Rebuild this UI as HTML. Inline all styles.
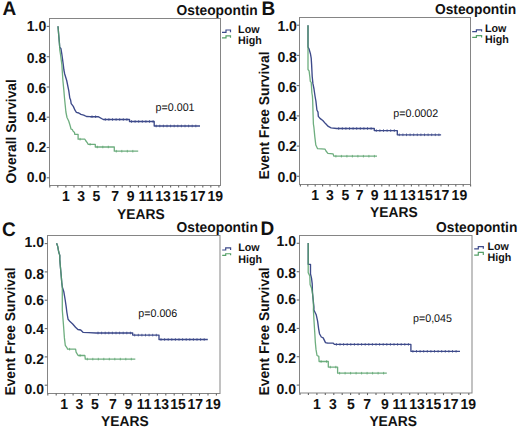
<!DOCTYPE html>
<html><head><meta charset="utf-8"><style>
html,body{margin:0;padding:0;background:#fff;}
svg{display:block;}
text{font-family:"Liberation Sans", sans-serif;fill:#111;text-rendering:geometricPrecision;}
.yl{font-size:14px;font-weight:bold;}
.ax{font-size:13.8px;font-weight:bold;}
.let{font-size:19px;font-weight:bold;}
.lg{font-size:10.7px;font-weight:bold;}
.pv{font-size:10.7px;}
</style></head><body>
<svg width="520" height="430" viewBox="0 0 520 430">
<rect width="520" height="430" fill="#fff"/>
<g id="pA"><rect x="49.5" y="18.5" width="171" height="167" fill="none" stroke="#858585" stroke-width="1"/>
<line x1="46.7" y1="177.8" x2="49.5" y2="177.8" stroke="#6a6a6a" stroke-width="1.1"/>
<text transform="translate(46.20,182.10) scale(1,1.03)" text-anchor="end" class="yl">0.0</text>
<line x1="46.7" y1="147.5" x2="49.5" y2="147.5" stroke="#6a6a6a" stroke-width="1.1"/>
<text transform="translate(46.20,151.90) scale(1,1.03)" text-anchor="end" class="yl">0.2</text>
<line x1="46.7" y1="117.2" x2="49.5" y2="117.2" stroke="#6a6a6a" stroke-width="1.1"/>
<text transform="translate(46.20,121.90) scale(1,1.03)" text-anchor="end" class="yl">0.4</text>
<line x1="46.7" y1="87.0" x2="49.5" y2="87.0" stroke="#6a6a6a" stroke-width="1.1"/>
<text transform="translate(46.20,92.85) scale(1,1.03)" text-anchor="end" class="yl">0.6</text>
<line x1="46.7" y1="56.7" x2="49.5" y2="56.7" stroke="#6a6a6a" stroke-width="1.1"/>
<text transform="translate(46.20,62.85) scale(1,1.03)" text-anchor="end" class="yl">0.8</text>
<line x1="46.7" y1="26.4" x2="49.5" y2="26.4" stroke="#6a6a6a" stroke-width="1.1"/>
<text transform="translate(46.20,31.25) scale(1,1.03)" text-anchor="end" class="yl">1.0</text>
<line x1="49.8" y1="185.5" x2="49.8" y2="187.6" stroke="#666" stroke-width="1.1"/>
<line x1="57.8" y1="185.5" x2="57.8" y2="187.6" stroke="#666" stroke-width="1.1"/>
<line x1="65.9" y1="185.5" x2="65.9" y2="187.6" stroke="#666" stroke-width="1.1"/>
<line x1="74.0" y1="185.5" x2="74.0" y2="187.6" stroke="#666" stroke-width="1.1"/>
<line x1="82.0" y1="185.5" x2="82.0" y2="187.6" stroke="#666" stroke-width="1.1"/>
<line x1="90.0" y1="185.5" x2="90.0" y2="187.6" stroke="#666" stroke-width="1.1"/>
<line x1="98.1" y1="185.5" x2="98.1" y2="187.6" stroke="#666" stroke-width="1.1"/>
<line x1="106.2" y1="185.5" x2="106.2" y2="187.6" stroke="#666" stroke-width="1.1"/>
<line x1="114.2" y1="185.5" x2="114.2" y2="187.6" stroke="#666" stroke-width="1.1"/>
<line x1="122.2" y1="185.5" x2="122.2" y2="187.6" stroke="#666" stroke-width="1.1"/>
<line x1="130.3" y1="185.5" x2="130.3" y2="187.6" stroke="#666" stroke-width="1.1"/>
<line x1="138.4" y1="185.5" x2="138.4" y2="187.6" stroke="#666" stroke-width="1.1"/>
<line x1="146.4" y1="185.5" x2="146.4" y2="187.6" stroke="#666" stroke-width="1.1"/>
<line x1="154.4" y1="185.5" x2="154.4" y2="187.6" stroke="#666" stroke-width="1.1"/>
<line x1="162.5" y1="185.5" x2="162.5" y2="187.6" stroke="#666" stroke-width="1.1"/>
<line x1="170.6" y1="185.5" x2="170.6" y2="187.6" stroke="#666" stroke-width="1.1"/>
<line x1="178.6" y1="185.5" x2="178.6" y2="187.6" stroke="#666" stroke-width="1.1"/>
<line x1="186.7" y1="185.5" x2="186.7" y2="187.6" stroke="#666" stroke-width="1.1"/>
<line x1="194.7" y1="185.5" x2="194.7" y2="187.6" stroke="#666" stroke-width="1.1"/>
<line x1="202.8" y1="185.5" x2="202.8" y2="187.6" stroke="#666" stroke-width="1.1"/>
<line x1="210.8" y1="185.5" x2="210.8" y2="187.6" stroke="#666" stroke-width="1.1"/>
<line x1="218.9" y1="185.5" x2="218.9" y2="187.6" stroke="#666" stroke-width="1.1"/>
<text transform="translate(65.90,200.90) scale(1,1.03)" text-anchor="middle" class="yl">1</text>
<text transform="translate(81.20,200.90) scale(1,1.03)" text-anchor="middle" class="yl">3</text>
<text transform="translate(96.50,200.90) scale(1,1.03)" text-anchor="middle" class="yl">5</text>
<text transform="translate(115.10,200.90) scale(1,1.03)" text-anchor="middle" class="yl">7</text>
<text transform="translate(130.70,200.90) scale(1,1.03)" text-anchor="middle" class="yl">9</text>
<text transform="translate(145.80,200.90) scale(1,1.03)" text-anchor="middle" class="yl">11</text>
<text transform="translate(163.00,200.90) scale(1,1.03)" text-anchor="middle" class="yl">13</text>
<text transform="translate(180.00,200.90) scale(1,1.03)" text-anchor="middle" class="yl">15</text>
<text transform="translate(197.70,200.90) scale(1,1.03)" text-anchor="middle" class="yl">17</text>
<text transform="translate(215.20,200.90) scale(1,1.03)" text-anchor="middle" class="yl">19</text>
<text transform="translate(117.10,219.00) scale(1,1.03)" class="ax">YEARS</text>
<text transform="translate(16.0,131.3) rotate(-90) scale(1,1.03)" text-anchor="middle" class="ax">Overall Survival</text>
<text transform="translate(2.55,14.90) scale(1,1.03)" class="let">A</text>
<text transform="translate(176.50,14.50) scale(1,1.03)" class="ax">Osteopontin</text>
<path d="M222,32.3 H226 V30.0 H230.5 V32.3" fill="none" stroke="#3d4a8a" stroke-width="1.2"/>
<path d="M222,37.8 H226 V35.9 H230.5 V37.8" fill="none" stroke="#55a068" stroke-width="1.2"/>
<text transform="translate(238.10,32.80) scale(1,1.03)" class="lg">Low</text>
<text transform="translate(238.10,44.10) scale(1,1.03)" class="lg">High</text>
<text transform="translate(155.60,110.55) scale(1,1.03)" class="pv">p=0.001</text>
<polyline points="58.0,26.2 58.5,32.5 59.4,42.9 59.7,47.3 60.9,48.4 61.9,54.5 63.3,64.9 63.9,70.0 64.7,74.0 66.7,80.5 68.8,90.9 69.8,98.0 70.6,100.0 71.2,103.6 73.3,106.4 75.0,110.2 76.4,112.3 78.8,113.0 80.9,114.4 83.7,115.1 86.5,116.5 90.0,116.7 98.1,116.7 103.3,119.5 129.5,119.5 129.5,121.5 154.2,121.5 154.2,126.0 200.0,126.0" fill="none" stroke="#3d4a8a" stroke-width="1.35" stroke-linejoin="round"/>
<path d="M92.0,115.4v2.6 M95.6,115.4v2.6 M105.3,118.2v2.6 M108.9,118.2v2.6 M112.5,118.2v2.6 M116.1,118.2v2.6 M119.7,118.2v2.6 M123.3,118.2v2.6 M126.9,118.2v2.6 M131.5,120.2v2.6 M135.1,120.2v2.6 M138.7,120.2v2.6 M142.3,120.2v2.6 M145.9,120.2v2.6 M149.5,120.2v2.6 M153.1,120.2v2.6 M156.2,124.7v2.6 M159.8,124.7v2.6 M163.4,124.7v2.6 M167.0,124.7v2.6 M170.6,124.7v2.6 M174.2,124.7v2.6 M177.8,124.7v2.6 M181.4,124.7v2.6 M185.0,124.7v2.6 M188.6,124.7v2.6 M192.2,124.7v2.6 M195.8,124.7v2.6" stroke="#3d4a8a" stroke-width="0.8" stroke-opacity="1.0" fill="none"/>
<polyline points="58.0,26.2 58.5,32.5 59.4,42.9 59.7,47.3 59.7,49.5 60.5,54.5 61.9,64.9 62.2,70.0 62.9,80.5 63.9,90.9 64.5,98.0 65.2,105.0 65.9,112.0 67.0,117.5 68.7,121.0 69.8,124.5 70.3,126.2 71.0,129.0 72.4,129.7 73.1,131.1 74.5,132.5 74.8,134.3 78.1,134.3 78.1,139.2 84.9,139.2 85.6,140.5 87.4,142.9 88.1,144.3 95.3,144.3 95.3,147.0 114.3,147.0 114.3,151.2 138.2,151.2" fill="none" stroke="#55a068" stroke-width="1.3" stroke-linejoin="round" stroke-opacity="0.85"/>
<path d="M80.1,137.9v2.6 M90.1,143.0v2.6 M97.3,145.7v2.6 M102.8,145.7v2.6 M108.3,145.7v2.6 M116.3,149.9v2.6 M121.8,149.9v2.6 M127.3,149.9v2.6 M132.8,149.9v2.6" stroke="#55a068" stroke-width="0.8" stroke-opacity="0.85" fill="none"/></g>
<g id="pB"><rect x="299.5" y="17.5" width="171" height="167" fill="none" stroke="#858585" stroke-width="1"/>
<line x1="296.7" y1="176.3" x2="299.5" y2="176.3" stroke="#6a6a6a" stroke-width="1.1"/>
<text transform="translate(296.90,181.65) scale(1,1.03)" text-anchor="end" class="yl">0.0</text>
<line x1="296.7" y1="146.1" x2="299.5" y2="146.1" stroke="#6a6a6a" stroke-width="1.1"/>
<text transform="translate(296.90,150.95) scale(1,1.03)" text-anchor="end" class="yl">0.2</text>
<line x1="296.7" y1="115.9" x2="299.5" y2="115.9" stroke="#6a6a6a" stroke-width="1.1"/>
<text transform="translate(296.90,120.75) scale(1,1.03)" text-anchor="end" class="yl">0.4</text>
<line x1="296.7" y1="85.6" x2="299.5" y2="85.6" stroke="#6a6a6a" stroke-width="1.1"/>
<text transform="translate(296.90,91.95) scale(1,1.03)" text-anchor="end" class="yl">0.6</text>
<line x1="296.7" y1="55.4" x2="299.5" y2="55.4" stroke="#6a6a6a" stroke-width="1.1"/>
<text transform="translate(296.90,61.95) scale(1,1.03)" text-anchor="end" class="yl">0.8</text>
<line x1="296.7" y1="25.2" x2="299.5" y2="25.2" stroke="#6a6a6a" stroke-width="1.1"/>
<text transform="translate(296.90,30.85) scale(1,1.03)" text-anchor="end" class="yl">1.0</text>
<line x1="300.4" y1="184.5" x2="300.4" y2="186.6" stroke="#666" stroke-width="1.1"/>
<line x1="307.8" y1="184.5" x2="307.8" y2="186.6" stroke="#666" stroke-width="1.1"/>
<line x1="315.2" y1="184.5" x2="315.2" y2="186.6" stroke="#666" stroke-width="1.1"/>
<line x1="322.6" y1="184.5" x2="322.6" y2="186.6" stroke="#666" stroke-width="1.1"/>
<line x1="330.0" y1="184.5" x2="330.0" y2="186.6" stroke="#666" stroke-width="1.1"/>
<line x1="337.4" y1="184.5" x2="337.4" y2="186.6" stroke="#666" stroke-width="1.1"/>
<line x1="344.8" y1="184.5" x2="344.8" y2="186.6" stroke="#666" stroke-width="1.1"/>
<line x1="352.2" y1="184.5" x2="352.2" y2="186.6" stroke="#666" stroke-width="1.1"/>
<line x1="359.6" y1="184.5" x2="359.6" y2="186.6" stroke="#666" stroke-width="1.1"/>
<line x1="367.0" y1="184.5" x2="367.0" y2="186.6" stroke="#666" stroke-width="1.1"/>
<line x1="374.4" y1="184.5" x2="374.4" y2="186.6" stroke="#666" stroke-width="1.1"/>
<line x1="381.8" y1="184.5" x2="381.8" y2="186.6" stroke="#666" stroke-width="1.1"/>
<line x1="389.2" y1="184.5" x2="389.2" y2="186.6" stroke="#666" stroke-width="1.1"/>
<line x1="396.6" y1="184.5" x2="396.6" y2="186.6" stroke="#666" stroke-width="1.1"/>
<line x1="404.0" y1="184.5" x2="404.0" y2="186.6" stroke="#666" stroke-width="1.1"/>
<line x1="411.4" y1="184.5" x2="411.4" y2="186.6" stroke="#666" stroke-width="1.1"/>
<line x1="418.8" y1="184.5" x2="418.8" y2="186.6" stroke="#666" stroke-width="1.1"/>
<line x1="426.2" y1="184.5" x2="426.2" y2="186.6" stroke="#666" stroke-width="1.1"/>
<line x1="433.6" y1="184.5" x2="433.6" y2="186.6" stroke="#666" stroke-width="1.1"/>
<line x1="441.0" y1="184.5" x2="441.0" y2="186.6" stroke="#666" stroke-width="1.1"/>
<line x1="448.4" y1="184.5" x2="448.4" y2="186.6" stroke="#666" stroke-width="1.1"/>
<line x1="455.8" y1="184.5" x2="455.8" y2="186.6" stroke="#666" stroke-width="1.1"/>
<line x1="463.2" y1="184.5" x2="463.2" y2="186.6" stroke="#666" stroke-width="1.1"/>
<line x1="470.6" y1="184.5" x2="470.6" y2="186.6" stroke="#666" stroke-width="1.1"/>
<text transform="translate(315.20,200.10) scale(1,1.03)" text-anchor="middle" class="yl">1</text>
<text transform="translate(329.80,200.10) scale(1,1.03)" text-anchor="middle" class="yl">3</text>
<text transform="translate(345.30,200.10) scale(1,1.03)" text-anchor="middle" class="yl">5</text>
<text transform="translate(359.70,200.10) scale(1,1.03)" text-anchor="middle" class="yl">7</text>
<text transform="translate(374.70,200.10) scale(1,1.03)" text-anchor="middle" class="yl">9</text>
<text transform="translate(390.30,200.10) scale(1,1.03)" text-anchor="middle" class="yl">11</text>
<text transform="translate(407.90,200.10) scale(1,1.03)" text-anchor="middle" class="yl">13</text>
<text transform="translate(424.90,200.10) scale(1,1.03)" text-anchor="middle" class="yl">15</text>
<text transform="translate(441.60,200.10) scale(1,1.03)" text-anchor="middle" class="yl">17</text>
<text transform="translate(459.40,200.10) scale(1,1.03)" text-anchor="middle" class="yl">19</text>
<text transform="translate(370.05,217.10) scale(1,1.03)" class="ax">YEARS</text>
<text transform="translate(269.3,115.5) rotate(-90) scale(1,1.03)" text-anchor="middle" class="ax">Event Free Survival</text>
<text transform="translate(261.40,15.10) scale(1,1.03)" class="let">B</text>
<text transform="translate(434.90,13.65) scale(1,1.03)" class="ax">Osteopontin</text>
<path d="M472.2,31.6 H476.4 V29.9 H481.6 V31.6" fill="none" stroke="#3d4a8a" stroke-width="1.2"/>
<path d="M472.2,37.4 H476.4 V35.6 H481.6 V37.4" fill="none" stroke="#55a068" stroke-width="1.2"/>
<text transform="translate(485.00,31.75) scale(1,1.03)" class="lg">Low</text>
<text transform="translate(485.00,42.75) scale(1,1.03)" class="lg">High</text>
<text transform="translate(393.30,116.70) scale(1,1.03)" class="pv">p=0.0002</text>
<polyline points="308.0,25.2 308.0,47.0 309.1,49.1 310.5,54.0 311.2,58.1 311.6,64.4 312.2,76.5 312.9,83.4 314.0,89.0 315.0,96.0 315.9,101.0 316.9,110.0 318.0,112.1 318.3,116.3 320.0,118.4 322.8,120.5 325.5,123.6 328.3,126.4 331.1,127.8 336.7,128.5 374.3,128.5 374.3,130.6 397.3,130.6 397.3,134.8 441.1,134.8" fill="none" stroke="#3d4a8a" stroke-width="1.35" stroke-linejoin="round"/>
<path d="M338.7,127.2v2.6 M342.3,127.2v2.6 M345.9,127.2v2.6 M349.5,127.2v2.6 M353.1,127.2v2.6 M356.7,127.2v2.6 M360.3,127.2v2.6 M363.9,127.2v2.6 M367.5,127.2v2.6 M371.1,127.2v2.6 M376.3,129.3v2.6 M379.9,129.3v2.6 M383.5,129.3v2.6 M387.1,129.3v2.6 M390.7,129.3v2.6 M394.3,129.3v2.6 M399.3,133.5v2.6 M402.9,133.5v2.6 M406.5,133.5v2.6 M410.1,133.5v2.6 M413.7,133.5v2.6 M417.3,133.5v2.6 M420.9,133.5v2.6 M424.5,133.5v2.6 M428.1,133.5v2.6 M431.7,133.5v2.6 M435.3,133.5v2.6 M438.9,133.5v2.6" stroke="#3d4a8a" stroke-width="0.8" stroke-opacity="1.0" fill="none"/>
<polyline points="308.0,25.2 308.0,69.5 309.1,70.9 309.8,76.5 310.3,81.4 311.2,82.4 311.5,86.9 311.9,93.0 312.4,96.0 312.7,101.0 313.1,115.0 313.4,124.0 313.9,127.3 314.8,136.6 315.8,145.0 317.6,148.7 325.1,149.2 326.0,151.0 327.9,153.3 333.0,153.8 333.9,156.2 377.0,156.2" fill="none" stroke="#55a068" stroke-width="1.3" stroke-linejoin="round" stroke-opacity="0.85"/>
<path d="M335.9,154.9v2.6 M341.4,154.9v2.6 M346.9,154.9v2.6 M352.4,154.9v2.6 M357.9,154.9v2.6 M363.4,154.9v2.6 M368.9,154.9v2.6 M374.4,154.9v2.6" stroke="#55a068" stroke-width="0.8" stroke-opacity="0.85" fill="none"/></g>
<g id="pC"><rect x="47.5" y="235.5" width="172.5" height="158" fill="none" stroke="#858585" stroke-width="1"/>
<line x1="44.7" y1="385.2" x2="47.5" y2="385.2" stroke="#6a6a6a" stroke-width="1.1"/>
<text transform="translate(44.00,394.25) scale(1,1.03)" text-anchor="end" class="yl">0.0</text>
<line x1="44.7" y1="356.9" x2="47.5" y2="356.9" stroke="#6a6a6a" stroke-width="1.1"/>
<text transform="translate(44.00,363.95) scale(1,1.03)" text-anchor="end" class="yl">0.2</text>
<line x1="44.7" y1="328.6" x2="47.5" y2="328.6" stroke="#6a6a6a" stroke-width="1.1"/>
<text transform="translate(44.00,333.70) scale(1,1.03)" text-anchor="end" class="yl">0.4</text>
<line x1="44.7" y1="300.2" x2="47.5" y2="300.2" stroke="#6a6a6a" stroke-width="1.1"/>
<text transform="translate(44.00,304.95) scale(1,1.03)" text-anchor="end" class="yl">0.6</text>
<line x1="44.7" y1="271.9" x2="47.5" y2="271.9" stroke="#6a6a6a" stroke-width="1.1"/>
<text transform="translate(44.00,278.70) scale(1,1.03)" text-anchor="end" class="yl">0.8</text>
<line x1="44.7" y1="243.6" x2="47.5" y2="243.6" stroke="#6a6a6a" stroke-width="1.1"/>
<text transform="translate(44.00,247.35) scale(1,1.03)" text-anchor="end" class="yl">1.0</text>
<line x1="47.8" y1="393.5" x2="47.8" y2="395.6" stroke="#666" stroke-width="1.1"/>
<line x1="56.2" y1="393.5" x2="56.2" y2="395.6" stroke="#666" stroke-width="1.1"/>
<line x1="64.7" y1="393.5" x2="64.7" y2="395.6" stroke="#666" stroke-width="1.1"/>
<line x1="73.1" y1="393.5" x2="73.1" y2="395.6" stroke="#666" stroke-width="1.1"/>
<line x1="81.5" y1="393.5" x2="81.5" y2="395.6" stroke="#666" stroke-width="1.1"/>
<line x1="89.9" y1="393.5" x2="89.9" y2="395.6" stroke="#666" stroke-width="1.1"/>
<line x1="98.4" y1="393.5" x2="98.4" y2="395.6" stroke="#666" stroke-width="1.1"/>
<line x1="106.8" y1="393.5" x2="106.8" y2="395.6" stroke="#666" stroke-width="1.1"/>
<line x1="115.2" y1="393.5" x2="115.2" y2="395.6" stroke="#666" stroke-width="1.1"/>
<line x1="123.7" y1="393.5" x2="123.7" y2="395.6" stroke="#666" stroke-width="1.1"/>
<line x1="132.1" y1="393.5" x2="132.1" y2="395.6" stroke="#666" stroke-width="1.1"/>
<line x1="140.5" y1="393.5" x2="140.5" y2="395.6" stroke="#666" stroke-width="1.1"/>
<line x1="149.0" y1="393.5" x2="149.0" y2="395.6" stroke="#666" stroke-width="1.1"/>
<line x1="157.4" y1="393.5" x2="157.4" y2="395.6" stroke="#666" stroke-width="1.1"/>
<line x1="165.8" y1="393.5" x2="165.8" y2="395.6" stroke="#666" stroke-width="1.1"/>
<line x1="174.2" y1="393.5" x2="174.2" y2="395.6" stroke="#666" stroke-width="1.1"/>
<line x1="182.7" y1="393.5" x2="182.7" y2="395.6" stroke="#666" stroke-width="1.1"/>
<line x1="191.1" y1="393.5" x2="191.1" y2="395.6" stroke="#666" stroke-width="1.1"/>
<line x1="199.5" y1="393.5" x2="199.5" y2="395.6" stroke="#666" stroke-width="1.1"/>
<line x1="208.0" y1="393.5" x2="208.0" y2="395.6" stroke="#666" stroke-width="1.1"/>
<line x1="216.4" y1="393.5" x2="216.4" y2="395.6" stroke="#666" stroke-width="1.1"/>
<text transform="translate(64.20,409.00) scale(1,1.03)" text-anchor="middle" class="yl">1</text>
<text transform="translate(79.40,409.00) scale(1,1.03)" text-anchor="middle" class="yl">3</text>
<text transform="translate(94.80,409.00) scale(1,1.03)" text-anchor="middle" class="yl">5</text>
<text transform="translate(113.00,409.00) scale(1,1.03)" text-anchor="middle" class="yl">7</text>
<text transform="translate(128.40,409.00) scale(1,1.03)" text-anchor="middle" class="yl">9</text>
<text transform="translate(144.20,409.00) scale(1,1.03)" text-anchor="middle" class="yl">11</text>
<text transform="translate(161.20,409.00) scale(1,1.03)" text-anchor="middle" class="yl">13</text>
<text transform="translate(178.10,409.00) scale(1,1.03)" text-anchor="middle" class="yl">15</text>
<text transform="translate(195.30,409.00) scale(1,1.03)" text-anchor="middle" class="yl">17</text>
<text transform="translate(213.00,409.00) scale(1,1.03)" text-anchor="middle" class="yl">19</text>
<text transform="translate(101.10,425.50) scale(1,1.03)" class="ax">YEARS</text>
<text transform="translate(15,331.5) rotate(-90) scale(1,1.03)" text-anchor="middle" class="ax">Event Free Survival</text>
<text transform="translate(1.90,236.40) scale(1,1.03)" class="let">C</text>
<text transform="translate(176.60,232.10) scale(1,1.03)" class="ax">Osteopontin</text>
<path d="M222.2,250 H225.7 V247.9 H230.6 V250" fill="none" stroke="#3d4a8a" stroke-width="1.2"/>
<path d="M222.2,255.3 H225.7 V253.75 H230.6 V255.3" fill="none" stroke="#55a068" stroke-width="1.2"/>
<text transform="translate(238.20,251.40) scale(1,1.03)" class="lg">Low</text>
<text transform="translate(238.20,262.50) scale(1,1.03)" class="lg">High</text>
<text transform="translate(138.30,317.40) scale(1,1.03)" class="pv">p=0.006</text>
<polyline points="56.6,243.2 57.7,246.4 58.7,252.0 59.8,255.4 59.8,259.6 60.5,268.0 61.1,274.5 61.8,282.8 62.3,287.0 63.8,291.6 65.2,300.0 66.2,306.9 66.9,312.5 67.4,315.5 68.1,319.3 70.0,321.6 72.7,324.0 75.5,327.2 77.9,329.5 80.7,330.0 83.0,332.3 88.6,332.6 96.0,333.0 132.7,333.0 132.7,335.1 159.0,335.1 159.0,339.5 207.8,339.5" fill="none" stroke="#3d4a8a" stroke-width="1.35" stroke-linejoin="round"/>
<path d="M98.0,331.7v2.6 M101.6,331.7v2.6 M105.2,331.7v2.6 M108.8,331.7v2.6 M112.4,331.7v2.6 M116.0,331.7v2.6 M119.6,331.7v2.6 M123.2,331.7v2.6 M126.8,331.7v2.6 M130.4,331.7v2.6 M134.7,333.8v2.6 M138.3,333.8v2.6 M141.9,333.8v2.6 M145.5,333.8v2.6 M149.1,333.8v2.6 M152.7,333.8v2.6 M156.3,333.8v2.6 M161.0,338.2v2.6 M164.6,338.2v2.6 M168.2,338.2v2.6 M171.8,338.2v2.6 M175.4,338.2v2.6 M179.0,338.2v2.6 M182.6,338.2v2.6 M186.2,338.2v2.6 M189.8,338.2v2.6 M193.4,338.2v2.6 M197.0,338.2v2.6 M200.6,338.2v2.6 M204.2,338.2v2.6" stroke="#3d4a8a" stroke-width="0.8" stroke-opacity="1.0" fill="none"/>
<polyline points="56.6,243.2 57.7,246.4 58.7,252.0 59.8,255.4 59.8,259.6 60.5,268.0 61.1,274.5 61.8,282.8 62.3,287.0 62.3,310.0 63.4,324.0 64.4,337.9 65.3,345.3 67.2,348.1 67.6,349.2 75.6,349.2 76.1,352.1 78.1,355.5 84.9,355.5 85.3,359.1 135.3,359.1" fill="none" stroke="#55a068" stroke-width="1.3" stroke-linejoin="round" stroke-opacity="0.85"/>
<path d="M69.6,347.9v2.6 M80.1,354.2v2.6 M87.3,357.8v2.6 M92.8,357.8v2.6 M98.3,357.8v2.6 M103.8,357.8v2.6 M109.3,357.8v2.6 M114.8,357.8v2.6 M120.3,357.8v2.6 M125.8,357.8v2.6 M131.3,357.8v2.6" stroke="#55a068" stroke-width="0.8" stroke-opacity="0.85" fill="none"/></g>
<g id="pD"><rect x="299.5" y="235.5" width="172.5" height="157.5" fill="none" stroke="#858585" stroke-width="1"/>
<line x1="296.7" y1="385.1" x2="299.5" y2="385.1" stroke="#6a6a6a" stroke-width="1.1"/>
<text transform="translate(296.00,393.70) scale(1,1.03)" text-anchor="end" class="yl">0.0</text>
<line x1="296.7" y1="356.7" x2="299.5" y2="356.7" stroke="#6a6a6a" stroke-width="1.1"/>
<text transform="translate(296.00,362.60) scale(1,1.03)" text-anchor="end" class="yl">0.2</text>
<line x1="296.7" y1="328.4" x2="299.5" y2="328.4" stroke="#6a6a6a" stroke-width="1.1"/>
<text transform="translate(296.00,332.85) scale(1,1.03)" text-anchor="end" class="yl">0.4</text>
<line x1="296.7" y1="300.0" x2="299.5" y2="300.0" stroke="#6a6a6a" stroke-width="1.1"/>
<text transform="translate(296.00,304.35) scale(1,1.03)" text-anchor="end" class="yl">0.6</text>
<line x1="296.7" y1="271.7" x2="299.5" y2="271.7" stroke="#6a6a6a" stroke-width="1.1"/>
<text transform="translate(296.00,277.50) scale(1,1.03)" text-anchor="end" class="yl">0.8</text>
<line x1="296.7" y1="243.3" x2="299.5" y2="243.3" stroke="#6a6a6a" stroke-width="1.1"/>
<text transform="translate(296.00,246.45) scale(1,1.03)" text-anchor="end" class="yl">1.0</text>
<line x1="300.0" y1="393.0" x2="300.0" y2="395.1" stroke="#666" stroke-width="1.1"/>
<line x1="308.4" y1="393.0" x2="308.4" y2="395.1" stroke="#666" stroke-width="1.1"/>
<line x1="316.9" y1="393.0" x2="316.9" y2="395.1" stroke="#666" stroke-width="1.1"/>
<line x1="325.3" y1="393.0" x2="325.3" y2="395.1" stroke="#666" stroke-width="1.1"/>
<line x1="333.8" y1="393.0" x2="333.8" y2="395.1" stroke="#666" stroke-width="1.1"/>
<line x1="342.2" y1="393.0" x2="342.2" y2="395.1" stroke="#666" stroke-width="1.1"/>
<line x1="350.6" y1="393.0" x2="350.6" y2="395.1" stroke="#666" stroke-width="1.1"/>
<line x1="359.1" y1="393.0" x2="359.1" y2="395.1" stroke="#666" stroke-width="1.1"/>
<line x1="367.5" y1="393.0" x2="367.5" y2="395.1" stroke="#666" stroke-width="1.1"/>
<line x1="376.0" y1="393.0" x2="376.0" y2="395.1" stroke="#666" stroke-width="1.1"/>
<line x1="384.4" y1="393.0" x2="384.4" y2="395.1" stroke="#666" stroke-width="1.1"/>
<line x1="392.8" y1="393.0" x2="392.8" y2="395.1" stroke="#666" stroke-width="1.1"/>
<line x1="401.3" y1="393.0" x2="401.3" y2="395.1" stroke="#666" stroke-width="1.1"/>
<line x1="409.7" y1="393.0" x2="409.7" y2="395.1" stroke="#666" stroke-width="1.1"/>
<line x1="418.2" y1="393.0" x2="418.2" y2="395.1" stroke="#666" stroke-width="1.1"/>
<line x1="426.6" y1="393.0" x2="426.6" y2="395.1" stroke="#666" stroke-width="1.1"/>
<line x1="435.0" y1="393.0" x2="435.0" y2="395.1" stroke="#666" stroke-width="1.1"/>
<line x1="443.5" y1="393.0" x2="443.5" y2="395.1" stroke="#666" stroke-width="1.1"/>
<line x1="451.9" y1="393.0" x2="451.9" y2="395.1" stroke="#666" stroke-width="1.1"/>
<line x1="460.4" y1="393.0" x2="460.4" y2="395.1" stroke="#666" stroke-width="1.1"/>
<line x1="468.8" y1="393.0" x2="468.8" y2="395.1" stroke="#666" stroke-width="1.1"/>
<text transform="translate(316.90,409.00) scale(1,1.03)" text-anchor="middle" class="yl">1</text>
<text transform="translate(332.80,409.00) scale(1,1.03)" text-anchor="middle" class="yl">3</text>
<text transform="translate(350.90,409.00) scale(1,1.03)" text-anchor="middle" class="yl">5</text>
<text transform="translate(367.20,409.00) scale(1,1.03)" text-anchor="middle" class="yl">7</text>
<text transform="translate(385.00,409.00) scale(1,1.03)" text-anchor="middle" class="yl">9</text>
<text transform="translate(399.90,409.00) scale(1,1.03)" text-anchor="middle" class="yl">11</text>
<text transform="translate(417.00,409.00) scale(1,1.03)" text-anchor="middle" class="yl">13</text>
<text transform="translate(433.40,409.00) scale(1,1.03)" text-anchor="middle" class="yl">15</text>
<text transform="translate(450.70,409.00) scale(1,1.03)" text-anchor="middle" class="yl">17</text>
<text transform="translate(468.20,409.00) scale(1,1.03)" text-anchor="middle" class="yl">19</text>
<text transform="translate(369.40,426.25) scale(1,1.03)" class="ax">YEARS</text>
<text transform="translate(269.2,331.4) rotate(-90) scale(1,1.03)" text-anchor="middle" class="ax">Event Free Survival</text>
<text transform="translate(260.40,234.70) scale(1,1.03)" class="let">D</text>
<text transform="translate(436.10,231.70) scale(1,1.03)" class="ax">Osteopontin</text>
<path d="M474.2,248.8 H478.3 V246.7 H483.3 V248.8" fill="none" stroke="#3d4a8a" stroke-width="1.2"/>
<path d="M474.2,255.1 H478.3 V252.4 H483.3 V255.1" fill="none" stroke="#55a068" stroke-width="1.2"/>
<text transform="translate(487.50,249.85) scale(1,1.03)" class="lg">Low</text>
<text transform="translate(487.50,261.05) scale(1,1.03)" class="lg">High</text>
<text transform="translate(413.00,321.50) scale(1,1.03)" class="pv">p=0,045</text>
<polyline points="308.2,242.9 308.2,264.3 310.5,264.3 310.5,274.0 311.5,278.1 312.2,283.7 312.5,293.0 313.2,300.0 313.9,306.9 313.9,310.0 316.2,314.7 317.6,321.2 318.6,328.6 319.5,333.7 321.3,337.0 323.2,337.9 325.5,342.6 327.4,343.0 333.3,343.2 334.4,344.4 410.9,344.4 410.9,351.3 460.0,351.3" fill="none" stroke="#3d4a8a" stroke-width="1.35" stroke-linejoin="round"/>
<path d="M336.4,343.1v2.6 M340.0,343.1v2.6 M343.6,343.1v2.6 M347.2,343.1v2.6 M350.8,343.1v2.6 M354.4,343.1v2.6 M358.0,343.1v2.6 M361.6,343.1v2.6 M365.2,343.1v2.6 M368.8,343.1v2.6 M372.4,343.1v2.6 M376.0,343.1v2.6 M379.6,343.1v2.6 M383.2,343.1v2.6 M386.8,343.1v2.6 M390.4,343.1v2.6 M394.0,343.1v2.6 M397.6,343.1v2.6 M401.2,343.1v2.6 M404.8,343.1v2.6 M408.4,343.1v2.6 M412.9,350.0v2.6 M416.5,350.0v2.6 M420.1,350.0v2.6 M423.7,350.0v2.6 M427.3,350.0v2.6 M430.9,350.0v2.6 M434.5,350.0v2.6 M438.1,350.0v2.6 M441.7,350.0v2.6 M445.3,350.0v2.6 M448.9,350.0v2.6 M452.5,350.0v2.6 M456.1,350.0v2.6" stroke="#3d4a8a" stroke-width="0.8" stroke-opacity="1.0" fill="none"/>
<polyline points="308.2,242.9 308.2,272.6 309.8,276.0 310.1,284.4 311.5,288.0 312.5,293.0 313.2,300.0 313.5,306.9 313.4,310.0 313.9,319.3 314.8,333.3 315.3,342.0 316.0,349.4 317.0,355.5 318.8,356.4 319.1,361.5 328.3,361.5 328.3,367.1 337.6,367.1 337.6,373.2 386.8,373.2" fill="none" stroke="#55a068" stroke-width="1.3" stroke-linejoin="round" stroke-opacity="0.85"/>
<path d="M321.1,360.2v2.6 M326.6,360.2v2.6 M330.3,365.8v2.6 M335.8,365.8v2.6 M339.6,371.9v2.6 M345.1,371.9v2.6 M350.6,371.9v2.6 M356.1,371.9v2.6 M361.6,371.9v2.6 M367.1,371.9v2.6 M372.6,371.9v2.6 M378.1,371.9v2.6 M383.6,371.9v2.6" stroke="#55a068" stroke-width="0.8" stroke-opacity="0.85" fill="none"/></g>
</svg>
</body></html>
